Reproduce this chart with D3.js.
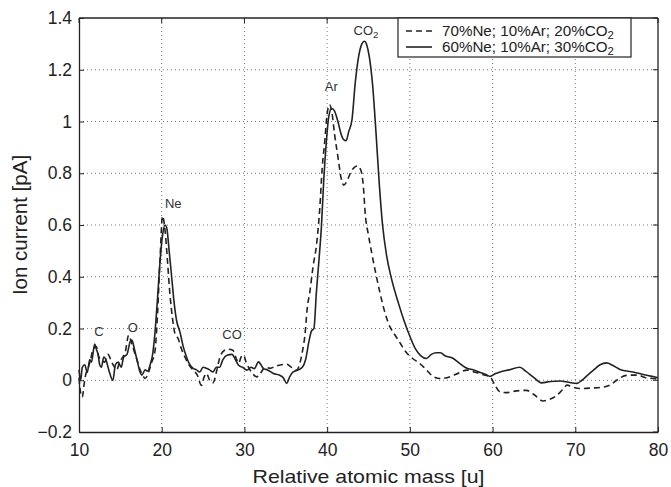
<!DOCTYPE html>
<html>
<head>
<meta charset="utf-8">
<script src="https://cdn.jsdelivr.net/npm/d3@7"></script>
<style>
  body { margin: 0; background: #fff; }
  svg { font-family: "Liberation Sans", Arial, sans-serif; }
</style>
</head>
<body>
<svg width="671" height="487"></svg>
<script>
// 60%Ne; 10%Ar; 30%CO2 (solid)
const massSolid = [10.0,10.2,10.4,10.7,11.0,11.3,11.5,11.9,12.1,12.3,12.5,12.7,13.0,13.3,13.6,14.1,14.4,14.75,15.1,15.4,15.8,16.2,16.4,16.7,17.0,17.3,17.6,18.0,18.3,18.6,18.9,19.2,19.5,19.8,20.1,20.4,20.6,20.9,21.2,21.5,21.8,22.2,22.6,23.0,23.4,23.8,24.2,24.6,25.0,25.4,25.8,26.2,26.6,27.0,27.4,27.9,28.5,28.9,29.3,29.8,30.3,30.8,31.2,31.7,32.0,32.3,32.8,33.5,34.2,34.7,35.1,35.5,35.9,36.5,37.0,37.4,37.8,38.1,38.4,38.7,39.0,39.3,39.6,39.9,40.2,40.55,40.9,41.3,41.7,42.0,42.3,42.6,43.0,43.4,43.8,44.2,44.5,44.8,45.1,45.5,45.9,46.3,46.7,47.2,47.8,48.6,49.3,50.0,50.7,51.3,52.0,52.6,53.2,53.7,54.3,55.2,55.9,56.9,57.7,58.5,59.2,59.7,60.3,60.9,62.0,63.3,64.0,65.0,65.9,67.0,68.2,69.2,70.2,70.8,71.5,72.2,73.0,73.8,74.5,75.4,77.0,78.5,80.0];
const currentSolid = [0.04,0.0,0.05,0.06,0.03,0.08,0.07,0.14,0.12,0.1,0.06,0.05,0.09,0.075,0.04,0.0,0.06,0.07,0.05,0.09,0.1,0.15,0.155,0.12,0.08,0.04,0.02,0.04,0.035,0.06,0.1,0.19,0.32,0.46,0.56,0.6,0.59,0.5,0.4,0.3,0.23,0.187,0.13,0.09,0.06,0.046,0.04,0.032,0.05,0.046,0.04,0.032,0.05,0.05,0.08,0.097,0.1,0.08,0.058,0.05,0.039,0.05,0.045,0.071,0.06,0.045,0.04,0.026,0.02,0.01,-0.012,0.015,0.032,0.04,0.05,0.08,0.15,0.19,0.2,0.34,0.46,0.59,0.78,0.92,1.02,1.05,1.04,1.0,0.95,0.93,0.926,0.96,1.006,1.15,1.25,1.3,1.31,1.295,1.25,1.14,0.96,0.76,0.6,0.48,0.39,0.3,0.23,0.17,0.12,0.095,0.084,0.1,0.106,0.106,0.094,0.085,0.068,0.046,0.04,0.03,0.022,0.015,0.025,0.032,0.04,0.05,0.035,0.01,-0.01,-0.005,-0.003,-0.008,-0.012,0.0,0.02,0.039,0.06,0.067,0.058,0.042,0.032,0.02,0.01];

// 70%Ne; 10%Ar; 20%CO2 (dashed)
const massDashed = [10.0,10.2,10.4,10.6,10.8,11.1,11.4,11.7,12.1,12.4,12.7,13.1,13.5,13.95,14.3,14.55,14.9,15.3,15.6,16.0,16.3,16.6,17.0,17.4,17.7,18.0,18.4,18.8,19.2,19.5,19.8,20.1,20.4,20.7,21.0,21.3,21.6,22.0,22.4,22.8,23.3,23.8,24.3,24.8,25.1,25.4,25.8,26.2,26.6,27.0,27.6,28.1,28.6,29.0,29.3,29.6,29.9,30.2,30.5,31.0,31.5,32.0,32.5,33.1,33.8,34.5,35.1,35.7,36.3,36.7,37.0,37.3,37.6,37.9,38.3,38.7,39.1,39.4,39.7,40.0,40.3,40.6,40.9,41.3,41.7,42.0,42.4,42.8,43.2,43.7,44.1,44.4,44.6,45.0,45.4,45.9,46.4,47.0,47.6,48.2,48.8,49.5,50.3,51.2,52.0,52.8,53.65,54.5,55.5,56.9,58.0,59.0,59.7,60.3,60.9,61.6,62.5,63.3,64.1,65.0,66.1,66.8,67.8,68.5,69.0,69.8,70.6,72.0,73.0,74.2,75.0,76.2,77.5,78.5,79.85];
const currentDashed = [0.01,-0.05,-0.065,-0.02,0.02,0.046,0.08,0.12,0.13,0.09,0.08,0.07,0.1,0.07,0.05,0.039,0.07,0.09,0.11,0.174,0.15,0.12,0.08,0.039,0.02,0.007,0.03,0.07,0.116,0.26,0.47,0.635,0.58,0.46,0.33,0.24,0.18,0.16,0.12,0.09,0.06,0.039,0.02,-0.02,0.01,0.027,0.0,-0.01,0.03,0.085,0.116,0.12,0.116,0.085,0.066,0.09,0.097,0.07,0.05,0.025,0.013,0.03,0.05,0.046,0.055,0.06,0.062,0.05,0.039,0.065,0.11,0.17,0.28,0.34,0.44,0.52,0.66,0.82,0.92,1.03,1.065,1.03,0.95,0.864,0.78,0.754,0.77,0.8,0.82,0.828,0.81,0.74,0.645,0.56,0.49,0.41,0.336,0.26,0.206,0.175,0.145,0.11,0.085,0.065,0.04,0.015,0.007,0.01,0.022,0.039,0.03,0.02,0.013,-0.02,-0.045,-0.048,-0.043,-0.04,-0.039,-0.055,-0.08,-0.075,-0.058,-0.035,-0.019,-0.028,-0.032,-0.03,-0.028,-0.019,0.0,0.019,0.02,0.01,0.006];

const xTicks = [10, 20, 30, 40, 50, 60, 70, 80];
const yTicks = [-0.2, 0, 0.2, 0.4, 0.6, 0.8, 1, 1.2, 1.4];

const peakLabels = ["C", "O", "Ne", "CO", "Ar", "CO2"];
const peakMass = [12.4, 16.5, 21.4, 28.5, 40.5, 44.7];
const peakCurrent = [0.186, 0.201, 0.68, 0.174, 1.13, 1.346];

const legendLabels = ["70%Ne; 10%Ar; 20%CO2", "60%Ne; 10%Ar; 30%CO2"];

const svg = d3.select("svg");
const margin = { top: 18, right: 13, bottom: 55, left: 79 };
const W = 671, H = 487;

const x = d3.scaleLinear().domain([10, 80]).range([margin.left, W - margin.right]);
const y = d3.scaleLinear().domain([-0.2, 1.4]).range([H - margin.bottom, margin.top]);

const ink = "#222";

// grid
svg.append("g").selectAll("line").data(xTicks.slice(1, -1)).join("line")
    .attr("x1", d => x(d)).attr("x2", d => x(d))
    .attr("y1", y(-0.2)).attr("y2", y(1.4))
    .attr("stroke", "#777").attr("stroke-width", 1).attr("stroke-dasharray", "1,3");
svg.append("g").selectAll("line").data(yTicks.slice(1, -1)).join("line")
    .attr("x1", x(10)).attr("x2", x(80))
    .attr("y1", d => y(d)).attr("y2", d => y(d))
    .attr("stroke", "#777").attr("stroke-width", 1).attr("stroke-dasharray", "1,3");

// axes (ticks inside, like matlab)
const xAxis = svg.append("g")
    .attr("transform", `translate(0,${y(-0.2)})`)
    .call(d3.axisBottom(x).tickValues(xTicks).tickSizeInner(-5).tickSizeOuter(0).tickPadding(12));
const yAxis = svg.append("g")
    .attr("transform", `translate(${x(10)},0)`)
    .call(d3.axisLeft(y).tickValues(yTicks).tickSizeInner(-5).tickSizeOuter(0).tickPadding(7)
        .tickFormat(d => d3.format("")(d)));
[xAxis, yAxis].forEach(a => {
    a.select(".domain").attr("stroke", ink).attr("stroke-width", 1.3);
    a.selectAll(".tick line").attr("stroke", ink);
    a.selectAll(".tick text").attr("fill", ink).attr("font-size", 17.5)
        .attr("font-family", "Liberation Sans, Arial, sans-serif");
});

// top / right frame
svg.append("line").attr("x1", x(10)).attr("x2", x(80)).attr("y1", y(1.4)).attr("y2", y(1.4))
    .attr("stroke", ink).attr("stroke-width", 1.3);
svg.append("line").attr("x1", x(80)).attr("x2", x(80)).attr("y1", y(1.4)).attr("y2", y(-0.2))
    .attr("stroke", ink).attr("stroke-width", 1.3);
// ticks on top/right
svg.append("g").selectAll("line").data(xTicks).join("line")
    .attr("x1", d => x(d)).attr("x2", d => x(d)).attr("y1", y(1.4)).attr("y2", y(1.4) + 5)
    .attr("stroke", ink);
svg.append("g").selectAll("line").data(yTicks).join("line")
    .attr("x1", x(80)).attr("x2", x(80) - 5).attr("y1", d => y(d)).attr("y2", d => y(d))
    .attr("stroke", ink);

// curves
const line = d3.line().x(d => x(d[0])).y(d => y(d[1])).curve(d3.curveMonotoneX);
const solid = massSolid.map((m, i) => [m, currentSolid[i]]);
const dashed = massDashed.map((m, i) => [m, currentDashed[i]]);

svg.append("path").datum(dashed)
    .attr("d", line).attr("fill", "none").attr("stroke", ink)
    .attr("stroke-width", 1.6).attr("stroke-dasharray", "6,4");
svg.append("path").datum(solid)
    .attr("d", line).attr("fill", "none").attr("stroke", ink)
    .attr("stroke-width", 1.6);

// chemical labels with subscript digits
const addFormula = (sel, label) => {
    const m = label.match(/^(.*?)(\d)$/);
    if (m) {
        sel.append("tspan").text(m[1]);
        sel.append("tspan").attr("font-size", "0.75em").attr("dy", "0.3em").text(m[2]);
    } else {
        sel.text(label);
    }
};

peakLabels.forEach((lab, i) => {
    const t = svg.append("text")
        .attr("x", x(peakMass[i])).attr("y", y(peakCurrent[i]))
        .attr("text-anchor", "middle").attr("dominant-baseline", "middle")
        .attr("font-size", 13).attr("fill", "#333");
    addFormula(t, lab);
});

// legend
const lg = svg.append("g");
lg.append("rect").attr("x", 398).attr("y", 18).attr("width", 233).attr("height", 39)
    .attr("fill", "#fff").attr("stroke", ink).attr("stroke-width", 1.2);
legendLabels.forEach((lab, i) => {
    const cy = 31 + i * 16;
    lg.append("line").attr("x1", 406).attr("x2", 432).attr("y1", cy).attr("y2", cy)
        .attr("stroke", ink).attr("stroke-width", 1.6)
        .attr("stroke-dasharray", i === 0 ? "6,4" : null);
    const t = lg.append("text").attr("x", 442).attr("y", cy + 5)
        .attr("font-size", 15.2).attr("fill", ink);
    addFormula(t, lab);
});

// axis titles
svg.append("text")
    .attr("x", (x(10) + x(80)) / 2).attr("y", 483)
    .attr("text-anchor", "middle").attr("font-size", 19).attr("fill", ink)
    .attr("textLength", 232).attr("lengthAdjust", "spacingAndGlyphs")
    .text("Relative atomic mass [u]");
svg.append("text")
    .attr("transform", `translate(27,${(y(-0.2) + y(1.4)) / 2}) rotate(-90)`)
    .attr("text-anchor", "middle").attr("font-size", 20.5).attr("fill", ink)
    .text("Ion current [pA]");
</script>
</body>
</html>
